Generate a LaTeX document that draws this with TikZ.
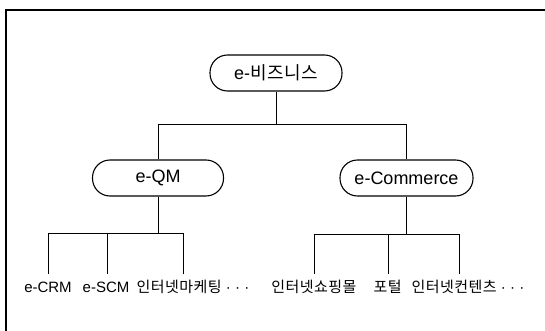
\documentclass[tikz,border=0pt]{standalone}
\usepackage{fontspec}
\setmainfont{Liberation Sans}
\newfontfamily\kr[LetterSpace=3]{Noto Sans CJK KR}
\begin{document}
\begin{tikzpicture}[x=1pt,y=-1pt,
  pill/.style={draw, line width=1.1pt, rounded corners=17.5pt, minimum height=36pt, inner sep=0pt, font=\fontsize{18}{21}\selectfont},
  leaf/.style={inner sep=0pt, font=\fontsize{15}{18}\selectfont},
  wire/.style={line width=0.9pt}]
\useasboundingbox (0,0) rectangle (545,331);
\draw[line width=1.3pt] (545,10) -- (6,10) -- (6,331);
\node[pill, minimum width=132pt] (root) at (276,73) {e-{\kr 비즈니스}};
\node[pill, minimum width=131pt] (qm) at (158,178) {e-QM};
\node[pill, minimum width=133pt] (ec) at (406.5,178) {e-Commerce};
\coordinate (rbus) at (276,124);
\draw[wire] (root.south) -- (rbus);
\draw[wire] (qm.north) -- (qm.north |- rbus) -- (ec.north |- rbus) -- (ec.north);
% e-QM children
\node[leaf] (crm) at (48,287) {e-CRM};
\node[leaf] (scm) at (106,287) {e-SCM};
\node[leaf] (mkt) at (193,287) {{\kr 인터넷마케팅}\;·\;·\;·};
\coordinate (qbus) at (158,233.5);
\coordinate (t1) at (48.7,274);
\coordinate (t2) at (107,274);
\coordinate (t3) at (183.5,274);
\draw[wire] (qm.south) -- (qbus);
\draw[wire] (t1) -- (t1 |- qbus) -- (t3 |- qbus) -- (t3);
\draw[wire] (t2) -- (t2 |- qbus);
% e-Commerce children
\node[leaf] (shop) at (314,287) {\kr 인터넷쇼핑몰};
\node[leaf] (portal) at (387.6,287) {\kr 포털};
\node[leaf] (cont) at (468,287) {{\kr 인터넷컨텐츠}\;·\;·\;·};
\coordinate (cbus) at (406.5,234);
\coordinate (u1) at (314.6,274);
\coordinate (u2) at (388.6,274);
\coordinate (u3) at (459.5,274);
\draw[wire] (ec.south) -- (cbus);
\draw[wire] (u1) -- (u1 |- cbus) -- (u3 |- cbus) -- (u3);
\draw[wire] (u2) -- (u2 |- cbus);
\end{tikzpicture}
\end{document}
